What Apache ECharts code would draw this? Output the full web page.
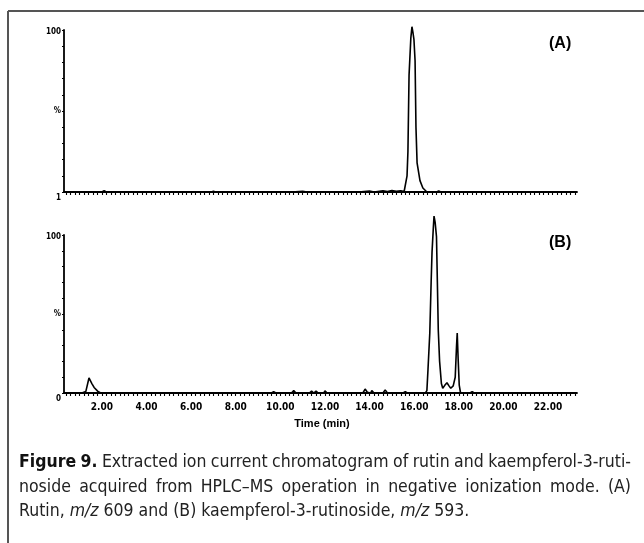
<!DOCTYPE html>
<html>
<head>
<meta charset="utf-8">
<script src="https://cdn.jsdelivr.net/npm/echarts@6/dist/echarts.min.js"></script>
<style>
html,body{margin:0;padding:0;background:#fff;}
#c{width:644px;height:543px;}
</style>
</head>
<body>
<div id="c"></div>
<script>
// Panel (A): rutin, m/z 609
const timesA = [0.3, 2.0, 2.1, 2.2, 6.9, 7.0, 7.1, 10.5, 11.0, 11.2, 13.5, 14.0, 14.2, 14.6, 14.8, 15.0, 15.2, 15.4, 15.55, 15.63, 15.68, 15.72, 15.77, 15.85, 15.90, 15.95, 15.99, 16.04, 16.08, 16.13, 16.26, 16.39, 16.57, 17.0, 17.1, 17.2, 23.3];
const valuesA = [0, 0, 0.8, 0, 0, 0.5, 0, 0, 0.4, 0, 0, 0.6, 0, 0.8, 0.3, 0.9, 0.4, 0.8, 0.3, 0, 10, 25, 72, 95, 102, 98, 94, 81, 40, 18, 7, 2.5, 0, 0, 0.6, 0, 0];
// Panel (B): kaempferol-3-rutinoside, m/z 593
const timesB = [0.3, 1.1, 1.28, 1.42, 1.55, 1.65, 1.72, 1.82, 1.95, 9.6, 9.7, 9.8, 10.5, 10.6, 10.7, 11.3, 11.4, 11.5, 11.6, 11.7, 11.95, 12.0, 12.1, 12.8, 12.85, 12.95, 13.25, 13.3, 13.4, 13.7, 13.8, 13.9, 14.05, 14.1, 14.2, 14.6, 14.7, 14.8, 15.5, 15.6, 15.7, 16.5, 16.57, 16.62, 16.70, 16.76, 16.80, 16.86, 16.89, 16.94, 17.00, 17.04, 17.08, 17.14, 17.22, 17.28, 17.38, 17.47, 17.56, 17.64, 17.75, 17.84, 17.90, 17.93, 17.97, 18.02, 18.08, 18.5, 18.6, 18.7, 23.3];
const valuesB = [0, 0, 1, 9.5, 6, 3.5, 4, 1, 0, 0, 0.8, 0, 0, 1.5, 0, 0, 1.2, 0, 1.2, 0, 0, 1.3, 0, 0, 1.2, 0, 0, 1.2, 0, 0, 2.5, 0.5, 0, 1.5, 0, 0, 2, 0, 0, 0.8, 0, 0, 1.5, 15, 38, 70, 89, 105, 112, 108, 99, 70, 40, 20, 6, 3, 5, 6.5, 4.5, 3, 4.5, 10, 30, 38, 22, 5, 0, 0, 0.8, 0, 0];
const xTickLabels = [2, 4, 6, 8, 10, 12, 14, 16, 18, 20, 22];
const yLabelsA = {100: '100', 50: '%', 0: '1'};
const yLabelsB = {100: '100', 50: '%', 0: '0'};
const panelTitles = ['(A)', '(B)'];
const axisTitle = 'Time (min)';
const captionLines = [
  [{b: 'Figure 9.'}, {t: ' Extracted ion current chromatogram of rutin and kaempferol-3-ruti-'}],
  [{t: 'noside acquired from HPLC\u2013MS operation in negative ionization mode. (A)'}],
  [{t: 'Rutin, '}, {i: 'm/z'}, {t: ' 609 and (B) kaempferol-3-rutinoside, '}, {i: 'm/z'}, {t: ' 593.'}]
];

const X_MIN = 0.3, X_MAX = 23.3;
const minorTicks = [];
for (let k = 2; k <= 116; k++) minorTicks.push(+(k * 0.2).toFixed(1));

const narrow = "'Liberation Sans Narrow','DejaVu Sans Condensed','Liberation Sans',sans-serif";

function xAxisCfg(gi, showLabels) {
  return {
    type: 'value', gridIndex: gi, min: X_MIN, max: X_MAX,
    axisLine: {show: true, onZero: false, lineStyle: {color: '#000', width: 1.8}},
    axisTick: {show: true, length: 3, customValues: minorTicks, lineStyle: {color: '#000', width: 1.1}},
    axisLabel: {show: showLabels, customValues: xTickLabels, formatter: v => v.toFixed(2),
      color: '#000', fontSize: 10, fontWeight: 'bold', fontFamily: narrow, margin: 9},
    splitLine: {show: false}
  };
}
function yAxisCfg(gi, labels) {
  return {
    type: 'value', gridIndex: gi, min: 0, max: 100, interval: 10,
    axisLine: {show: true, lineStyle: {color: '#000', width: 1.8}},
    axisTick: {show: true, length: 2, lineStyle: {color: '#000', width: 1.2}},
    axisLabel: {show: true, margin: 3, color: '#000', fontSize: 8, fontWeight: 'bold', fontFamily: narrow,
      formatter: v => labels[v] === undefined ? '' : (v === 0 ? '{lo|' + labels[v] + '}' : (v === 100 ? '{hi|' + labels[v] + '}' : labels[v])),
      rich: {
        lo: {fontSize: 8, fontWeight: 'bold', fontFamily: narrow, color: '#000', padding: [12, 0, 0, 0]},
        hi: {fontSize: 8, fontWeight: 'bold', fontFamily: narrow, color: '#000', padding: [4, 0, 0, 0]}
      }},
    splitLine: {show: false}
  };
}
function pairs(ts, vs) { return ts.map((t, i) => [t, vs[i]]); }

// caption: justified lines built word by word
const capFamily = "'Liberation Sans Narrow','DejaVu Sans Condensed','Open Sans',sans-serif";
const capSize = 17.5;
const capLeft = 19, capRight = 631;
const capY = [462, 487, 511];
const mctx = document.createElement('canvas').getContext('2d');
function fontFor(kind) {
  const st = kind === 'i' ? 'italic' : 'normal';
  const wt = kind === 'b' ? 'bold' : 'normal';
  return st + ' ' + wt + ' ' + capSize + 'px ' + capFamily;
}
function tokens(parts) {
  const out = [];
  let glue = false;
  parts.forEach(p => {
    const kind = p.b !== undefined ? 'b' : p.i !== undefined ? 'i' : 't';
    const txt = p[kind];
    const bits = txt.split(' ');
    bits.forEach((w, k) => {
      if (k > 0) glue = false;
      if (w === '') { return; }
      if (glue && out.length) out[out.length - 1].push({kind, w});
      else out.push([{kind, w}]);
      glue = true;
    });
    if (txt.endsWith(' ')) glue = false;
  });
  return out;
}
const capGraphics = [];
captionLines.forEach((parts, li) => {
  const words = tokens(parts);
  const widths = words.map(grp => grp.reduce((s, seg) => { mctx.font = fontFor(seg.kind); return s + mctx.measureText(seg.w).width; }, 0));
  const total = widths.reduce((a, b) => a + b, 0);
  mctx.font = fontFor('t');
  const space = mctx.measureText(' ').width;
  const justify = li < captionLines.length - 1;
  const gap = justify ? (capRight - capLeft - total) / (words.length - 1) : space;
  let x = capLeft;
  words.forEach((grp, wi) => {
    let sx = x;
    grp.forEach(seg => {
      mctx.font = fontFor(seg.kind);
      capGraphics.push({type: 'text', x: sx, y: capY[li], style: {text: seg.w, font: fontFor(seg.kind), fill: seg.kind === 'b' ? '#111' : '#222', verticalAlign: 'middle'}});
      sx += mctx.measureText(seg.w).width;
    });
    x += widths[wi] + gap;
  });
});

const chart = echarts.init(document.getElementById('c'), null, {renderer: 'canvas'});
chart.setOption({
  animation: false,
  backgroundColor: '#fff',
  grid: [
    {left: 64, right: 67, top: 30, height: 162},
    {left: 64, right: 67, top: 235, height: 158}
  ],
  xAxis: [xAxisCfg(0, false), xAxisCfg(1, true)],
  yAxis: [yAxisCfg(0, yLabelsA), yAxisCfg(1, yLabelsB)],
  series: [
    {type: 'line', xAxisIndex: 0, yAxisIndex: 0, data: pairs(timesA, valuesA), showSymbol: false, clip: false,
      lineStyle: {color: '#000', width: 1.6}},
    {type: 'line', xAxisIndex: 1, yAxisIndex: 1, data: pairs(timesB, valuesB), showSymbol: false, clip: false,
      lineStyle: {color: '#000', width: 1.6}}
  ],
  graphic: [
    {type: 'line', shape: {x1: 8, y1: 11, x2: 644, y2: 11}, style: {stroke: '#555', lineWidth: 2}},
    {type: 'line', shape: {x1: 8, y1: 11, x2: 8, y2: 543}, style: {stroke: '#555', lineWidth: 2}},
    {type: 'text', left: 549, top: 36, style: {text: panelTitles[0], font: "bold 16px 'Liberation Sans',Arial,sans-serif", fill: '#000'}},
    {type: 'text', left: 549, top: 235, style: {text: panelTitles[1], font: "bold 16px 'Liberation Sans',Arial,sans-serif", fill: '#000'}},
    {type: 'text', x: 322, y: 424, style: {text: axisTitle, font: "bold 11px 'Liberation Sans',Arial,sans-serif", fill: '#000', align: 'center', verticalAlign: 'middle'}}
  ].concat(capGraphics)
});
</script>
</body>
</html>
